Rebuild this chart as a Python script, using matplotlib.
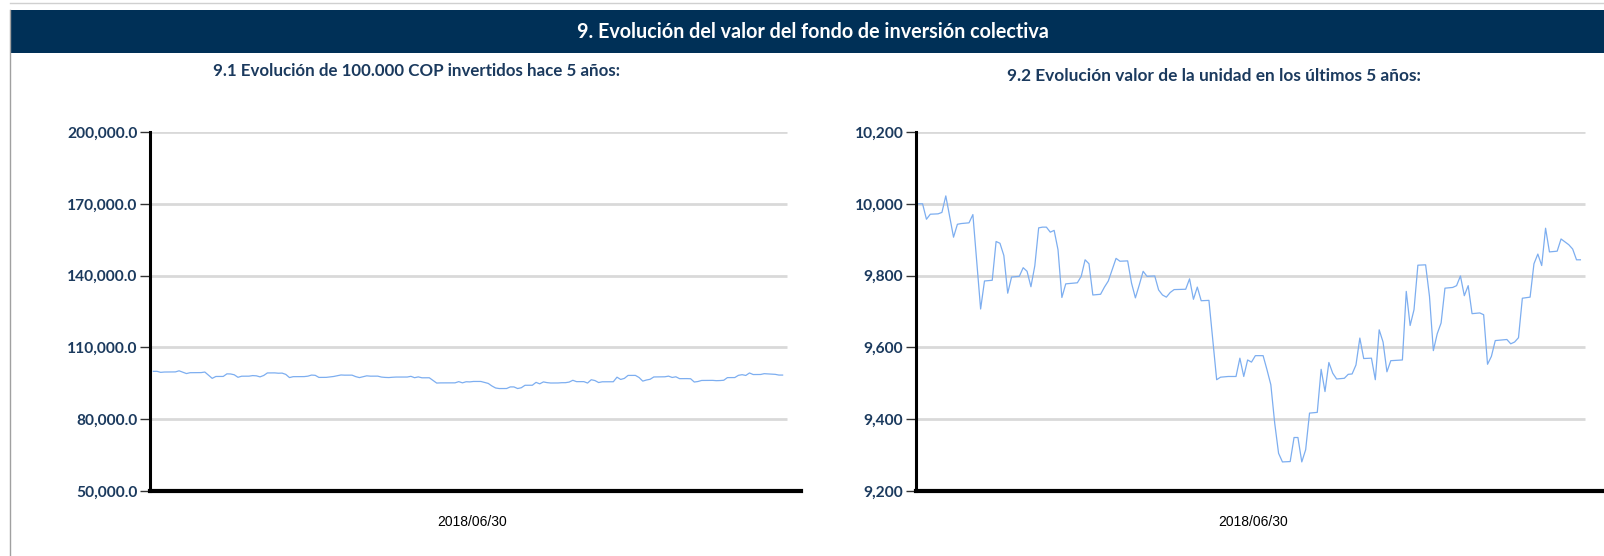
import matplotlib
matplotlib.use("Agg")
import matplotlib.pyplot as plt
from matplotlib.patches import Rectangle
from matplotlib.lines import Line2D

# ---------------- data ----------------
titulo = "9. Evolución del valor del fondo de inversión colectiva"
subtitulo_izq = "9.1 Evolución de 100.000 COP invertidos hace 5 años:"
subtitulo_der = "9.2 Evolución valor de la unidad en los últimos 5 años:"

# sample index (time position) of each vertex of the series
puntos = [
    0, 1, 2, 3, 5, 6, 7, 8, 9, 10,
    11, 13, 14, 16, 17, 19, 20, 21, 22, 23,
    24, 26, 27, 28, 29, 30, 31, 32, 33, 34,
    35, 36, 37, 38, 41, 42, 43, 44, 45, 47,
    48, 49, 51, 52, 54, 55, 56, 57, 58, 59,
    61, 62, 63, 64, 65, 66, 69, 70, 71, 72,
    73, 75, 77, 78, 80, 82, 83, 84, 85, 86,
    87, 89, 90, 91, 92, 93, 94, 96, 97, 98,
    99, 100, 101, 103, 104, 105, 106, 107, 108, 110,
    111, 112, 113, 114, 115, 117, 118, 119, 120, 121,
    122, 125, 126, 127, 128, 129, 131, 132, 133, 134,
    135, 136, 138, 139, 140, 141, 142, 143, 145, 146,
    147, 148, 149, 152, 153, 154, 155, 156, 158, 159,
    160, 161, 162, 163, 165, 166, 168, 169, 170, 171,
]

valor_inversion = [
    100000, 100000, 99570, 99710, 99720, 99760, 100220, 99650, 99070, 99430,
    99450, 99470, 99700, 97070, 97850, 97870, 98950, 98900, 98560, 97510,
    97960, 97980, 98220, 98120, 97690, 98270, 99330, 99350, 99350, 99210,
    99260, 98720, 97390, 97770, 97800, 97980, 98440, 98330, 97460, 97480,
    97680, 97850, 98480, 98400, 98410, 97790, 97380, 97740, 98120, 97980,
    97990, 97600, 97460, 97400, 97530, 97610, 97620, 97910, 97340, 97680,
    97300, 97310, 95100, 95170, 95190, 95190, 95700, 95190, 95650, 95590,
    95770, 95770, 95380, 94960, 93890, 93050, 92810, 92820, 93490, 93490,
    92810, 93150, 94170, 94190, 95390, 94770, 95580, 95280, 95120, 95140,
    95250, 95260, 95510, 96260, 95690, 95700, 95100, 96490, 96150, 95320,
    95630, 95650, 97560, 96610, 97050, 98290, 98300, 97420, 95910, 96380,
    96680, 97650, 97670, 97720, 97990, 97440, 97720, 96940, 96960, 96910,
    95530, 95750, 96190, 96220, 96100, 96150, 96270, 97370, 97400, 98330,
    98600, 98280, 99320, 98660, 98680, 99020, 98860, 98740, 98440, 98440,
]

valor_unidad = [
    10000, 10000, 9957, 9971, 9972, 9976, 10022, 9965, 9907, 9943,
    9945, 9947, 9970, 9707, 9785, 9787, 9895, 9890, 9856, 9751,
    9796, 9798, 9822, 9812, 9769, 9827, 9933, 9935, 9935, 9921,
    9926, 9872, 9739, 9777, 9780, 9798, 9844, 9833, 9746, 9748,
    9768, 9785, 9848, 9840, 9841, 9779, 9738, 9774, 9812, 9798,
    9799, 9760, 9746, 9740, 9753, 9761, 9762, 9791, 9734, 9768,
    9730, 9731, 9510, 9517, 9519, 9519, 9570, 9519, 9565, 9559,
    9577, 9577, 9538, 9496, 9389, 9305, 9281, 9282, 9349, 9349,
    9281, 9315, 9417, 9419, 9539, 9477, 9558, 9528, 9512, 9514,
    9525, 9526, 9551, 9626, 9569, 9570, 9510, 9649, 9615, 9532,
    9563, 9565, 9756, 9661, 9705, 9829, 9830, 9742, 9591, 9638,
    9668, 9765, 9767, 9772, 9799, 9744, 9772, 9694, 9696, 9691,
    9553, 9575, 9619, 9622, 9610, 9615, 9627, 9737, 9740, 9833,
    9860, 9828, 9932, 9866, 9868, 9902, 9886, 9874, 9844, 9844,
]

yticks_izq = [50000, 80000, 110000, 140000, 170000, 200000]
yticks_der = [9200, 9400, 9600, 9800, 10000, 10200]
xtick_pos = [86.5]
xtick_labels = ["2018/06/30"]

# ---------------- style ----------------
W, H = 1604, 556
NAVY = "#003057"
TXT = "#1B3A5E"
LINE = "#7DAEF0"
GRID = "#D9D9D9"
FONT = "Lato"

fig = plt.figure(figsize=(W / 100, H / 100), dpi=100)
fig.patch.set_facecolor("white")

def fx(px):
    return px / W

def fy(py):
    return 1 - py / H

# header bar
fig.patches.append(Rectangle((fx(10), fy(53)), fx(1604) - fx(10), (53 - 10) / H,
                             transform=fig.transFigure, facecolor=NAVY,
                             edgecolor="none", zorder=0))
fig.text(fx(813), fy(31.5), titulo, color="white", fontsize=14.2, fontweight="bold",
         family=FONT, ha="center", va="center")
# frame lines
fig.add_artist(Line2D([fx(10), fx(10)], [fy(10), 0], transform=fig.transFigure,
                      color="#A0A0A0", lw=1))
fig.add_artist(Line2D([fx(10), 1], [fy(2.5), fy(2.5)], transform=fig.transFigure,
                      color="#D0D0D0", lw=1))

fig.text(fx(416.5), fy(70.5), subtitulo_izq, color=TXT, fontsize=12.2,
         fontweight="bold", family=FONT, ha="center", va="center")
fig.text(fx(1213.5), fy(75.6), subtitulo_der, color=TXT, fontsize=12.4,
         fontweight="bold", family=FONT, ha="center", va="center")


def make_axes(left_px, right_px, xlim, grid_end, yticks, values, fmt):
    ax = fig.add_axes([fx(left_px), fy(491), fx(right_px) - fx(left_px), (491 - 132) / H])
    ax.set_xlim(*xlim)
    ax.set_ylim(yticks[0], yticks[-1])
    ax.hlines(yticks[1:], xlim[0], grid_end, color=GRID, lw=2, zorder=1)
    ax.plot(puntos, values, color=LINE, lw=0.9, zorder=3)
    for s in ("top", "right"):
        ax.spines[s].set_visible(False)
    ax.spines["left"].set_linewidth(2.2)
    ax.spines["bottom"].set_linewidth(3)
    ax.spines["left"].set_color("black")
    ax.spines["bottom"].set_color("black")
    ax.set_yticks(yticks)
    ax.set_yticklabels([fmt(v) for v in yticks])
    ax.tick_params(axis="y", length=7, width=1, color="#333333", pad=2,
                   labelsize=11.2, labelcolor=TXT)
    for lab in ax.get_yticklabels():
        lab.set_fontweight("bold")
        lab.set_family(FONT)
    ax.set_xticks(xtick_pos)
    ax.set_xticklabels(xtick_labels)
    ax.tick_params(axis="x", length=0, pad=17, labelsize=10, labelcolor="black")
    for lab in ax.get_xticklabels():
        lab.set_family("Liberation Sans")
    ax.set_facecolor("none")
    return ax


make_axes(150, 801, (-0.9, 176.0), 172.1, yticks_izq, valor_inversion,
          lambda v: f"{v:,.1f}")
make_axes(916, 1604, (-0.7, 177.1), 172.1, yticks_der, valor_unidad,
          lambda v: f"{v:,.0f}")

fig.savefig("out.png", dpi=100)
